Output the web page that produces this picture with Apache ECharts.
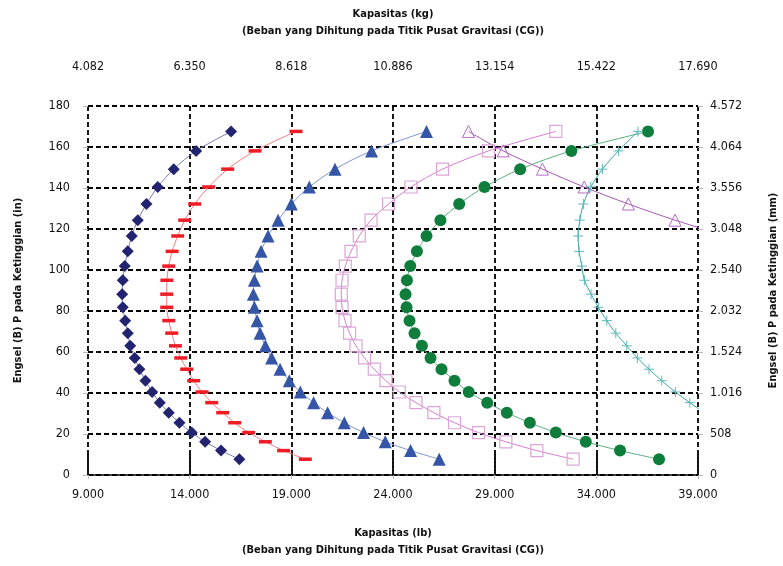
<!DOCTYPE html>
<html>
<head>
<meta charset="utf-8">
<script src="https://cdn.jsdelivr.net/npm/echarts@6/dist/echarts.min.js"></script>
<style>
  html, body { margin: 0; padding: 0; background: #fff; }
  #chart { width: 783px; height: 566px; }
</style>
</head>
<body>
<div id="chart"></div>
<script>
// hinge height (in) for each row of points
const heights = [167.6, 158.1, 149.2, 140.5, 132.2, 124.3, 116.6, 109.1, 101.9, 95.0, 88.2, 81.8, 75.3,
  69.2, 63.0, 57.1, 51.6, 46.0, 40.5, 35.3, 30.4, 25.5, 20.7, 16.2, 11.9, 7.7];

// capacity (lb) per curve, same order as heights
const diamondLb = [16037, 14317, 13216, 12430, 11875, 11447, 11152, 10956, 10808, 10710, 10681, 10710, 10828,
  10956, 11074, 11300, 11531, 11826, 12155, 12528, 12971, 13496, 14101, 14759, 15545, 16445];
const dashLb = [19231, 17216, 15870, 14936, 14248, 13757, 13413, 13138, 12971, 12880, 12872, 12872, 12971,
  13118, 13300, 13560, 13855, 14199, 14612, 15084, 15624, 16214, 16902, 17722, 18622, 19688];
const triangleLb = [25649, 22946, 21148, 19885, 19000, 18347, 17855, 17511, 17315, 17182, 17133, 17182, 17315,
  17462, 17722, 18032, 18445, 18902, 19442, 20096, 20784, 21605, 22553, 23619, 24863, 26273];
const squareLb = [32008, 28695, 26435, 24882, 23782, 22917, 22342, 21934, 21654, 21492, 21457, 21492, 21639,
  21865, 22180, 22602, 23078, 23653, 24307, 25128, 26012, 27025, 28204, 29550, 31074, 32857];
const circleLb = [36543, 32774, 30253, 28499, 27255, 26332, 25649, 25177, 24848, 24686, 24617, 24666, 24813,
  25059, 25423, 25846, 26386, 27025, 27722, 28632, 29600, 30730, 32008, 33482, 35167, 37084];
const plusLb = [36052, 35084, 34298, 33727, 33364, 33187, 33103, 33152, 33285, 33413, 33742, 34101, 34514,
  34956, 35496, 36017, 36592, 37216, 37885, 38598, 39300];
const openTriLb = [27713, 29418, 31349, 33399, 35576, 37871, 40400];

// tick labels
const lbTicks = [9000, 14000, 19000, 24000, 29000, 34000, 39000];
const lbLabels = ['9.000', '14.000', '19.000', '24.000', '29.000', '34.000', '39.000'];
const kgLabels = ['4.082', '6.350', '8.618', '10.886', '13.154', '15.422', '17.690'];
const inTicks = [0, 20, 40, 60, 80, 100, 120, 140, 160, 180];
const mmLabels = ['0', '508', '1.016', '1.524', '2.032', '2.540', '3.048', '3.556', '4.064', '4.572'];

const FONT = '"Liberation Sans Narrow", "DejaVu Sans Condensed", sans-serif';

function pts(xs) {
  return xs.map((x, i) => [x, heights[i]]);
}

const gridDash = { color: '#000', width: 1.8, type: [5, 3] };
const tickText = { fontFamily: FONT, fontSize: 12.5, color: '#111' };
const titleText = { fontFamily: FONT, fontWeight: 'bold', fontSize: 11, lineHeight: 17, color: '#111' };

const chart = echarts.init(document.getElementById('chart'));
chart.setOption({
  animation: false,
  grid: { left: 88, right: 85, top: 106, bottom: 91, outerBoundsMode: 'none' },
  xAxis: [
    {
      type: 'value', position: 'bottom',
      min: 9000, max: 39000, interval: 5000,
      name: 'Kapasitas (lb)\n(Beban yang Dihitung pada Titik Pusat Gravitasi (CG))',
      nameLocation: 'middle', nameGap: 50,
      nameTextStyle: titleText,
      axisLine: { show: true, onZero: false, lineStyle: { color: '#000', width: 1.5 } },
      axisTick: { show: true, length: 4, lineStyle: { color: '#bbb' } },
      axisLabel: Object.assign({ margin: 13, formatter: (v) => lbLabels[lbTicks.indexOf(v)] || '' }, tickText),
      splitLine: { show: true, lineStyle: gridDash }
    },
    {
      type: 'value', position: 'top',
      min: 9000, max: 39000, interval: 5000,
      name: 'Kapasitas (kg)\n(Beban yang Dihitung pada Titik Pusat Gravitasi (CG))',
      nameLocation: 'middle', nameGap: 66,
      nameTextStyle: titleText,
      axisLine: { show: false },
      axisTick: { show: true, length: 21, lineStyle: gridDash },
      axisLabel: Object.assign({ margin: 33, formatter: (v) => kgLabels[lbTicks.indexOf(v)] || '' }, tickText),
      splitLine: { show: false }
    }
  ],
  yAxis: [
    {
      type: 'value', position: 'left',
      min: 0, max: 180, interval: 20,
      name: 'Engsel (B) P pada Ketinggian (in)',
      nameLocation: 'middle', nameGap: 61,
      nameTextStyle: titleText,
      axisLine: { show: false },
      axisTick: { show: true, length: 5, lineStyle: { color: '#bbb' } },
      axisLabel: Object.assign({ margin: 18 }, tickText),
      splitLine: { show: true, lineStyle: gridDash }
    },
    {
      type: 'value', position: 'right',
      min: 0, max: 180, interval: 20,
      name: 'Engsel (B) P pada Ketinggian (mm)',
      nameLocation: 'middle', nameGap: 67, nameRotate: 90,
      nameTextStyle: titleText,
      axisLine: { show: false },
      axisTick: { show: true, length: 5, lineStyle: { color: '#bbb' } },
      axisLabel: Object.assign({ margin: 12, formatter: (v) => mmLabels[inTicks.indexOf(v)] || '' }, tickText),
      splitLine: { show: false }
    }
  ],
  series: [
    {
      type: 'line', data: pts(diamondLb), smooth: 0.3,
      symbol: 'diamond', symbolSize: 12,
      itemStyle: { color: '#23246f' },
      lineStyle: { color: '#7a7cb2', width: 1 }
    },
    {
      type: 'line', data: pts(dashLb), smooth: 0.3,
      symbol: 'rect', symbolSize: [13, 3.5],
      itemStyle: { color: '#ee1c25' },
      lineStyle: { color: '#f27b7f', width: 1 }
    },
    {
      type: 'line', data: pts(triangleLb), smooth: 0.3,
      symbol: 'triangle', symbolSize: 13,
      itemStyle: { color: '#3556a6' },
      lineStyle: { color: '#7d92d0', width: 1 }
    },
    {
      type: 'line', data: pts(squareLb), smooth: 0.3,
      symbol: 'rect', symbolSize: 12,
      itemStyle: { color: 'rgba(0,0,0,0)', borderColor: '#dca5d8', borderWidth: 1.2 },
      lineStyle: { color: '#d67ccc', width: 1 }
    },
    {
      type: 'line', data: pts(circleLb), smooth: 0.3,
      symbol: 'circle', symbolSize: 12,
      itemStyle: { color: '#0f7d3c' },
      lineStyle: { color: '#5bae80', width: 1 }
    },
    {
      type: 'line', data: pts(plusLb), smooth: 0.3,
      symbol: 'path://M0,5L10,5M5,0L5,10', symbolSize: 10,
      itemStyle: { color: 'rgba(0,0,0,0)', borderColor: '#5cb9b9', borderWidth: 1 },
      lineStyle: { color: '#3aa3a3', width: 1 }
    },
    {
      type: 'line', data: pts(openTriLb), smooth: 0.3,
      symbol: 'triangle', symbolSize: 12,
      itemStyle: { color: 'rgba(0,0,0,0)', borderColor: '#b46cc4', borderWidth: 1 },
      lineStyle: { color: '#a457b4', width: 1 }
    }
  ]
});
</script>
</body>
</html>
